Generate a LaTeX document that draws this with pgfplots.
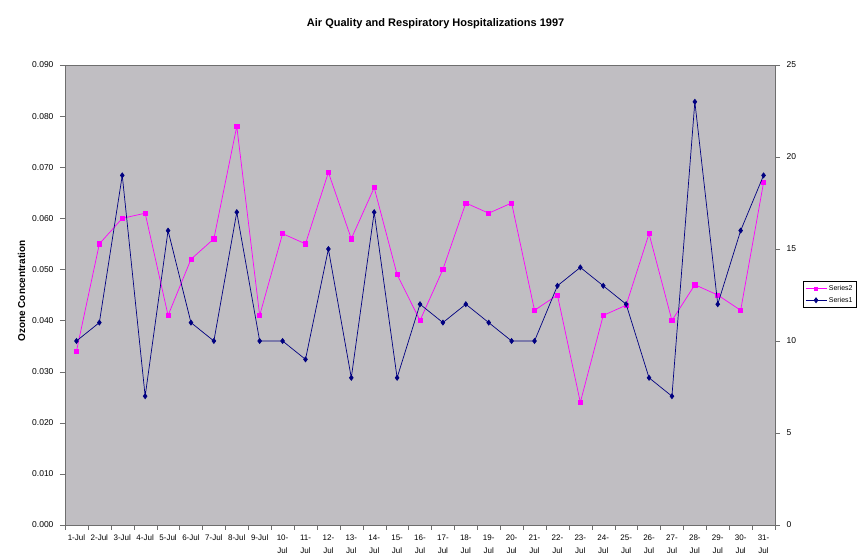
\documentclass[border=0pt]{standalone}
\usepackage{pgfplots}
\pgfplotsset{compat=1.18}
\usepackage{pgfplotstable}
\usepackage{fontspec}
\setmainfont{Liberation Sans}
\definecolor{plotbg}{RGB}{192,190,194}
\definecolor{ser1}{RGB}{0,0,128}
\definecolor{ser2}{RGB}{255,0,255}
\definecolor{axgray}{RGB}{110,110,110}

\pgfplotstableread{
x oz hosp
0 0.034 10
1 0.055 11
2 0.060 19
3 0.061 7
4 0.041 16
5 0.052 11
6 0.056 10
7 0.078 17
8 0.041 10
9 0.057 10
10 0.055 9
11 0.069 15
12 0.056 8
13 0.066 17
14 0.049 8
15 0.040 12
16 0.050 11
17 0.063 12
18 0.061 11
19 0.063 10
20 0.042 10
21 0.045 13
22 0.024 14
23 0.041 13
24 0.043 12
25 0.057 8
26 0.040 7
27 0.047 23
28 0.045 12
29 0.042 16
30 0.067 19
}\data

\begin{document}
\begin{tikzpicture}
\pgfplotsset{
  every axis/.append style={
    scale only axis, width=710pt, height=460pt,
    xmin=-0.5, xmax=30.5,
    tick label style={font=\fontsize{8.5}{11}\selectfont},
    /pgf/number format/assume math mode=true,
    axis line style={axgray},
    tick style={axgray},
    tick align=outside,
    major tick length=5pt, minor tick length=5pt,
  }
}
\begin{axis}[
  axis background/.style={fill=plotbg},
  ymin=0, ymax=0.09,
  ytick={0,0.01,0.02,0.03,0.04,0.05,0.06,0.07,0.08,0.09},
  yticklabel style={/pgf/number format/fixed, /pgf/number format/fixed zerofill, /pgf/number format/precision=3, xshift=-3pt},
  scaled y ticks=false,
  ytick pos=left,
  xtick pos=bottom,
  xtick={0,...,30},
  xticklabels={1-Jul,2-Jul,3-Jul,4-Jul,5-Jul,6-Jul,7-Jul,8-Jul,9-Jul,{10-\\Jul},{11-\\Jul},{12-\\Jul},{13-\\Jul},{14-\\Jul},{15-\\Jul},{16-\\Jul},{17-\\Jul},{18-\\Jul},{19-\\Jul},{20-\\Jul},{21-\\Jul},{22-\\Jul},{23-\\Jul},{24-\\Jul},{25-\\Jul},{26-\\Jul},{27-\\Jul},{28-\\Jul},{29-\\Jul},{30-\\Jul},{31-\\Jul}},
  xticklabel style={align=center, inner sep=1pt, yshift=-4pt, font=\fontsize{8}{12.5}\selectfont},
  major x tick style={draw=none},
  minor xtick={-0.5,0.5,...,30.5},
  ylabel={Ozone Concentration},
  ylabel style={font=\fontsize{10}{11}\selectfont\bfseries, xshift=4pt},
  title={Air Quality and Respiratory Hospitalizations 1997},
  title style={font=\fontsize{11}{12}\selectfont\bfseries, at={(rel axis cs:0.522,1.076)}, anchor=center},
]
\addplot[ser2, line width=0.7pt, mark=square*, mark size=2.1pt, mark options={fill=ser2, draw=ser2}] table[x=x, y=oz] {\data};
\end{axis}
\begin{axis}[
  ymin=0, ymax=25,
  axis y line*=right,
  axis x line=none,
  ytick={0,5,10,15,20,25},
  yticklabel style={xshift=3pt},
  legend image code/.code={\draw[mark repeat=2,mark phase=2,#1] plot coordinates {(0pt,0pt)(10.5pt,0pt)(21pt,0pt)};},
  legend style={at={(rel axis cs:1.0394,0.530)}, anchor=north west, draw=black, fill=white,
    font=\fontsize{7}{8}\selectfont, inner xsep=2pt, inner ysep=2pt, row sep=1pt, cells={anchor=west}},
  legend cell align=left,
]
\addlegendimage{ser2, line width=0.7pt, mark=square*, mark size=1.6pt, mark options={fill=ser2, draw=ser2}}
\addlegendentry{Series2}
\addplot[ser1, line width=0.7pt, mark=diamond*, mark size=2.5pt, mark options={fill=ser1, draw=ser1}] table[x=x, y=hosp] {\data};
\addlegendentry{Series1}
\end{axis}
\useasboundingbox (current axis.south west) ++(-65pt,-31pt) rectangle ++(861pt,556pt);
\end{tikzpicture}
\end{document}
